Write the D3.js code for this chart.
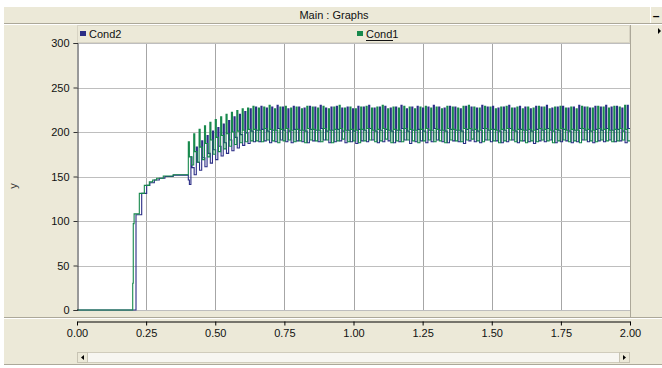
<!DOCTYPE html>
<html><head><meta charset="utf-8">
<script src="https://cdn.jsdelivr.net/npm/d3@7"></script>
<style>
body{margin:0;background:#fff}
svg{display:block;font-family:"Liberation Sans",Arial,sans-serif}
</style>
</head><body>
<svg id="c" width="662" height="368"></svg>
<script>
// ---- data ----
const xTicks = [0, 0.25, 0.5, 0.75, 1.0, 1.25, 1.5, 1.75, 2.0];
const xTickLabels = ["0.00","0.25","0.50","0.75","1.00","1.25","1.50","1.75","2.00"];
const yTicks = [0, 50, 100, 150, 200, 250, 300];
const yTickLabels = ["0","50","100","150","200","250","300"];
const seriesNames = ["Cond2", "Cond1"];

// start-up (stepped) part: time, value
const cond1StepT = [0, 0.2015, 0.2035, 0.2065, 0.2254, 0.2435, 0.2616, 0.2737, 0.288, 0.312, 0.348];
const cond1StepV = [0, 30, 97, 108, 131, 140, 144, 146, 148, 150.5, 152];
const cond2StepT = [0, 0.2134, 0.234, 0.252, 0.2636, 0.2797, 0.2977, 0.318, 0.348, 0.4026, 0.4065];
const cond2StepV = [0, 107, 131, 140, 143, 146, 148, 150, 151.5, 146, 141];

// oscillating part: one value per cycle
const cond1Start = 0.4026, cond1End = 2.0;
const cond1Peak = [189,198,203,207,211,214,217,220,222,224,226,227,
229,227,228,230,226,228,229,227,228,226,229,228,227,229,226,228,230,227,228,226,
228,229,227,228,230,226,228,227,229,228,226,228,229,227,228,226,229,228,227,229,
230,228,227,229,228,226,228,229,227,228,226,228,227,229,228,226,228,229,227,228,
226,229,228,227,229,228,227,229,228,230];
const cond1Mid = [172,178,183,187,191,194,196,198,200,201,202,203,
203,202,204,203,202,203,204,202,203,202,204,203,202,204,202,203,204,202,203,202,
203,204,202,203,204,202,203,202,204,203,202,203,204,202,203,202,204,203,202,204,
204,203,202,204,203,202,203,204,202,203,202,203,202,204,203,202,203,204,202,203,
202,204,203,202,204,203,202,203,204,203];
const cond1Low = [163,166,169,172,175,178,181,184,186,188,189,190,
190,189,191,190,188,190,191,189,190,188,191,190,189,191,188,190,192,189,190,188,
190,191,189,190,192,188,190,189,191,190,188,190,191,189,190,188,191,190,189,191,
192,190,189,191,190,188,190,191,189,190,188,190,189,191,190,188,190,191,189,190,
188,191,190,189,191,190,189,190,191,190];

const cond2Start = 0.412, cond2End = 2.0094;
const cond2Peak = [172,183,190,196,201,205,209,213,217,220,223,226,
228,229,227,228,230,228,226,229,228,227,229,228,230,227,228,229,227,228,226,229,
228,230,227,228,229,227,228,230,226,228,229,227,228,230,228,227,229,228,226,229,
228,227,230,228,229,227,228,230,227,229,228,226,229,228,230,227,228,229,227,228,
230,228,227,229,228,230,228,229,227,230];
const cond2Mid = [160,166,171,176,180,184,188,191,194,197,199,201,
202,203,201,202,204,202,201,203,202,201,203,202,204,201,202,203,201,202,201,203,
202,204,201,202,203,201,202,204,201,202,203,201,202,204,202,201,203,202,201,203,
202,201,204,202,203,201,202,204,201,203,202,201,203,202,204,201,202,203,201,202,
204,202,201,203,202,204,202,203,201,204];
const cond2Low = [152,157,161,165,169,173,176,179,182,185,187,189,
189,190,188,189,191,189,188,190,189,188,190,189,191,188,189,190,188,189,187,190,
189,191,188,189,190,188,189,191,187,189,190,188,189,191,189,188,190,189,187,190,
189,188,191,189,190,188,189,191,188,190,189,187,190,189,191,188,189,190,188,189,
191,189,188,190,189,191,189,190,188,191];

// ---- build ----
const svg = d3.select("#c");
const W = 662, H = 368;
const L = 77, R = 630, T = 43, B = 310;
const x = d3.scaleLinear().domain([0, 2]).range([L, R]);
const y = d3.scaleLinear().domain([0, 300]).range([B, T]);
const beige = "#ECE9D8", edge = "#ACA899";

// window chrome
svg.append("rect").attr("x",4).attr("y",7).attr("width",W-4).attr("height",357).attr("fill",beige);
svg.append("rect").attr("x",4).attr("y",7).attr("width",646).attr("height",16).attr("fill",beige);
svg.append("line").attr("x1",4).attr("x2",W).attr("y1",23.5).attr("y2",23.5).attr("stroke",edge);
svg.append("line").attr("x1",4).attr("x2",W).attr("y1",24.5).attr("y2",24.5).attr("stroke","#fff");
svg.append("line").attr("x1",650.5).attr("x2",650.5).attr("y1",7).attr("y2",23).attr("stroke","#fff");
svg.append("text").attr("x",334).attr("y",19).attr("text-anchor","middle").attr("font-size",11).attr("fill","#111").text("Main : Graphs");
svg.append("text").attr("x",656).attr("y",20).attr("text-anchor","middle").attr("font-size",12).attr("font-weight","bold").attr("fill","#000").text("\u2013");
svg.append("path").attr("d","M658,28 L661,31 L658,34 Z").attr("fill","#000");

// legend bar
svg.append("rect").attr("x",77.5).attr("y",25.5).attr("width",552).attr("height",17).attr("fill",beige).attr("stroke","#d8d4c4");
// right panel border
svg.append("line").attr("x1",630.5).attr("x2",630.5).attr("y1",25).attr("y2",318).attr("stroke",edge);

// plot area
svg.append("rect").attr("x",L).attr("y",T).attr("width",R-L).attr("height",B-T).attr("fill","#fff");

// grid
svg.append("g").selectAll("line").data(xTicks.slice(1, -1)).join("line")
  .attr("x1",d=>Math.round(x(d))+0.5).attr("x2",d=>Math.round(x(d))+0.5)
  .attr("y1",T).attr("y2",B).attr("stroke","#a6a6a6");
svg.append("g").selectAll("line").data(yTicks.slice(1)).join("line")
  .attr("x1",L).attr("x2",R).attr("y1",d=>Math.round(y(d))+0.5).attr("y2",d=>Math.round(y(d))+0.5)
  .attr("stroke","#bebebe");
svg.append("line").attr("x1",L).attr("x2",R).attr("y1",B+0.5).attr("y2",B+0.5).attr("stroke","#bebebe");

// series
function buildSeries(stepT, stepV, start, end, peak, mid, low) {
  const pts = stepT.map((t, i) => [t, stepV[i]]);
  const n = Math.min(peak.length, mid.length, low.length);
  const cyc = d3.scaleLinear().domain([0, n]).range([start, end]);
  for (let i = 0; i < n; i++) {
    const t0 = cyc(i), p = cyc(i + 1) - t0;
    pts.push([t0, peak[i]], [t0 + 0.2 * p, mid[i]], [t0 + 0.6 * p, low[i]]);
  }
  pts.push([end, low[n - 1]]);
  return pts;
}
const cond1 = buildSeries(cond1StepT, cond1StepV, cond1Start, cond1End, cond1Peak, cond1Mid, cond1Low);
const cond2 = buildSeries(cond2StepT, cond2StepV, cond2Start, cond2End, cond2Peak, cond2Mid, cond2Low);

svg.append("clipPath").attr("id","clip").append("rect").attr("x",L).attr("y",T-2).attr("width",R-L).attr("height",B-T+3);
const line = d3.line().x(d=>x(d[0])).y(d=>y(d[1])).curve(d3.curveStepAfter);
const colors = {Cond2:"#2B2D86", Cond1:"#17894C"};
const gData = svg.append("g").attr("clip-path","url(#clip)");
gData.append("path").datum(cond2).attr("d",line).attr("fill","none").attr("stroke",colors.Cond2).attr("stroke-width",1.1);
gData.append("path").datum(cond1).attr("d",line).attr("fill","none").attr("stroke",colors.Cond1).attr("stroke-width",1.1);

// legend
const legendX = {Cond2: 80, Cond1: 357};
seriesNames.forEach(name => {
  svg.append("rect").attr("x",legendX[name]).attr("y",31).attr("width",6).attr("height",5).attr("fill",colors[name]);
  svg.append("text").attr("x",legendX[name]+9).attr("y",37.5).attr("font-size",11).attr("fill","#111").text(name);
});
svg.append("line").attr("x1",366).attr("x2",393).attr("y1",40.5).attr("y2",40.5).attr("stroke","#111");

// y axis
const yAxis = d3.axisLeft(y).tickValues(yTicks).tickSize(4).tickPadding(4).tickFormat((d,i)=>yTickLabels[i]);
const gy = svg.append("g").attr("transform",`translate(${L+0.5},0)`).call(yAxis);
gy.select(".domain").attr("stroke","#333");
gy.selectAll(".tick line").attr("stroke","#333");
gy.selectAll("text").attr("font-size",11).attr("font-family","Liberation Sans, Arial, sans-serif").attr("fill","#111");
svg.append("text").attr("transform","translate(17,186) rotate(-90)").attr("text-anchor","middle")
  .attr("font-size",11).attr("fill","#333").text("y");

// bottom separator
svg.append("line").attr("x1",4).attr("x2",W).attr("y1",317.5).attr("y2",317.5).attr("stroke",edge);
svg.append("line").attr("x1",4).attr("x2",W).attr("y1",318.5).attr("y2",318.5).attr("stroke","#fff");

// x axis
const xAxis = d3.axisBottom(x).tickValues(xTicks).tickSize(4).tickSizeOuter(0).tickPadding(4).tickFormat((d,i)=>xTickLabels[i]);
const gx = svg.append("g").attr("transform","translate(0,321.5)").call(xAxis);
gx.select(".domain").attr("stroke","#000");
gx.selectAll(".tick line").attr("stroke","#000");
gx.selectAll("text").attr("font-size",11).attr("font-family","Liberation Sans, Arial, sans-serif").attr("fill","#111");

// scrollbar
svg.append("rect").attr("x",77.5).attr("y",352.5).attr("width",552).attr("height",10).attr("fill","#F7F6F1").attr("stroke","#d0ccbc");
svg.append("rect").attr("x",77.5).attr("y",352.5).attr("width",10).attr("height",10).attr("fill",beige).attr("stroke","#c8c4b4");
svg.append("rect").attr("x",619.5).attr("y",352.5).attr("width",10).attr("height",10).attr("fill",beige).attr("stroke","#c8c4b4");
svg.append("path").attr("d","M84,355 L81,357.5 L84,360 Z").attr("fill","#000");
svg.append("path").attr("d","M623,355 L626,357.5 L623,360 Z").attr("fill","#000");
svg.append("line").attr("x1",4).attr("x2",W).attr("y1",364.5).attr("y2",364.5).attr("stroke",edge);
</script>
</body></html>
